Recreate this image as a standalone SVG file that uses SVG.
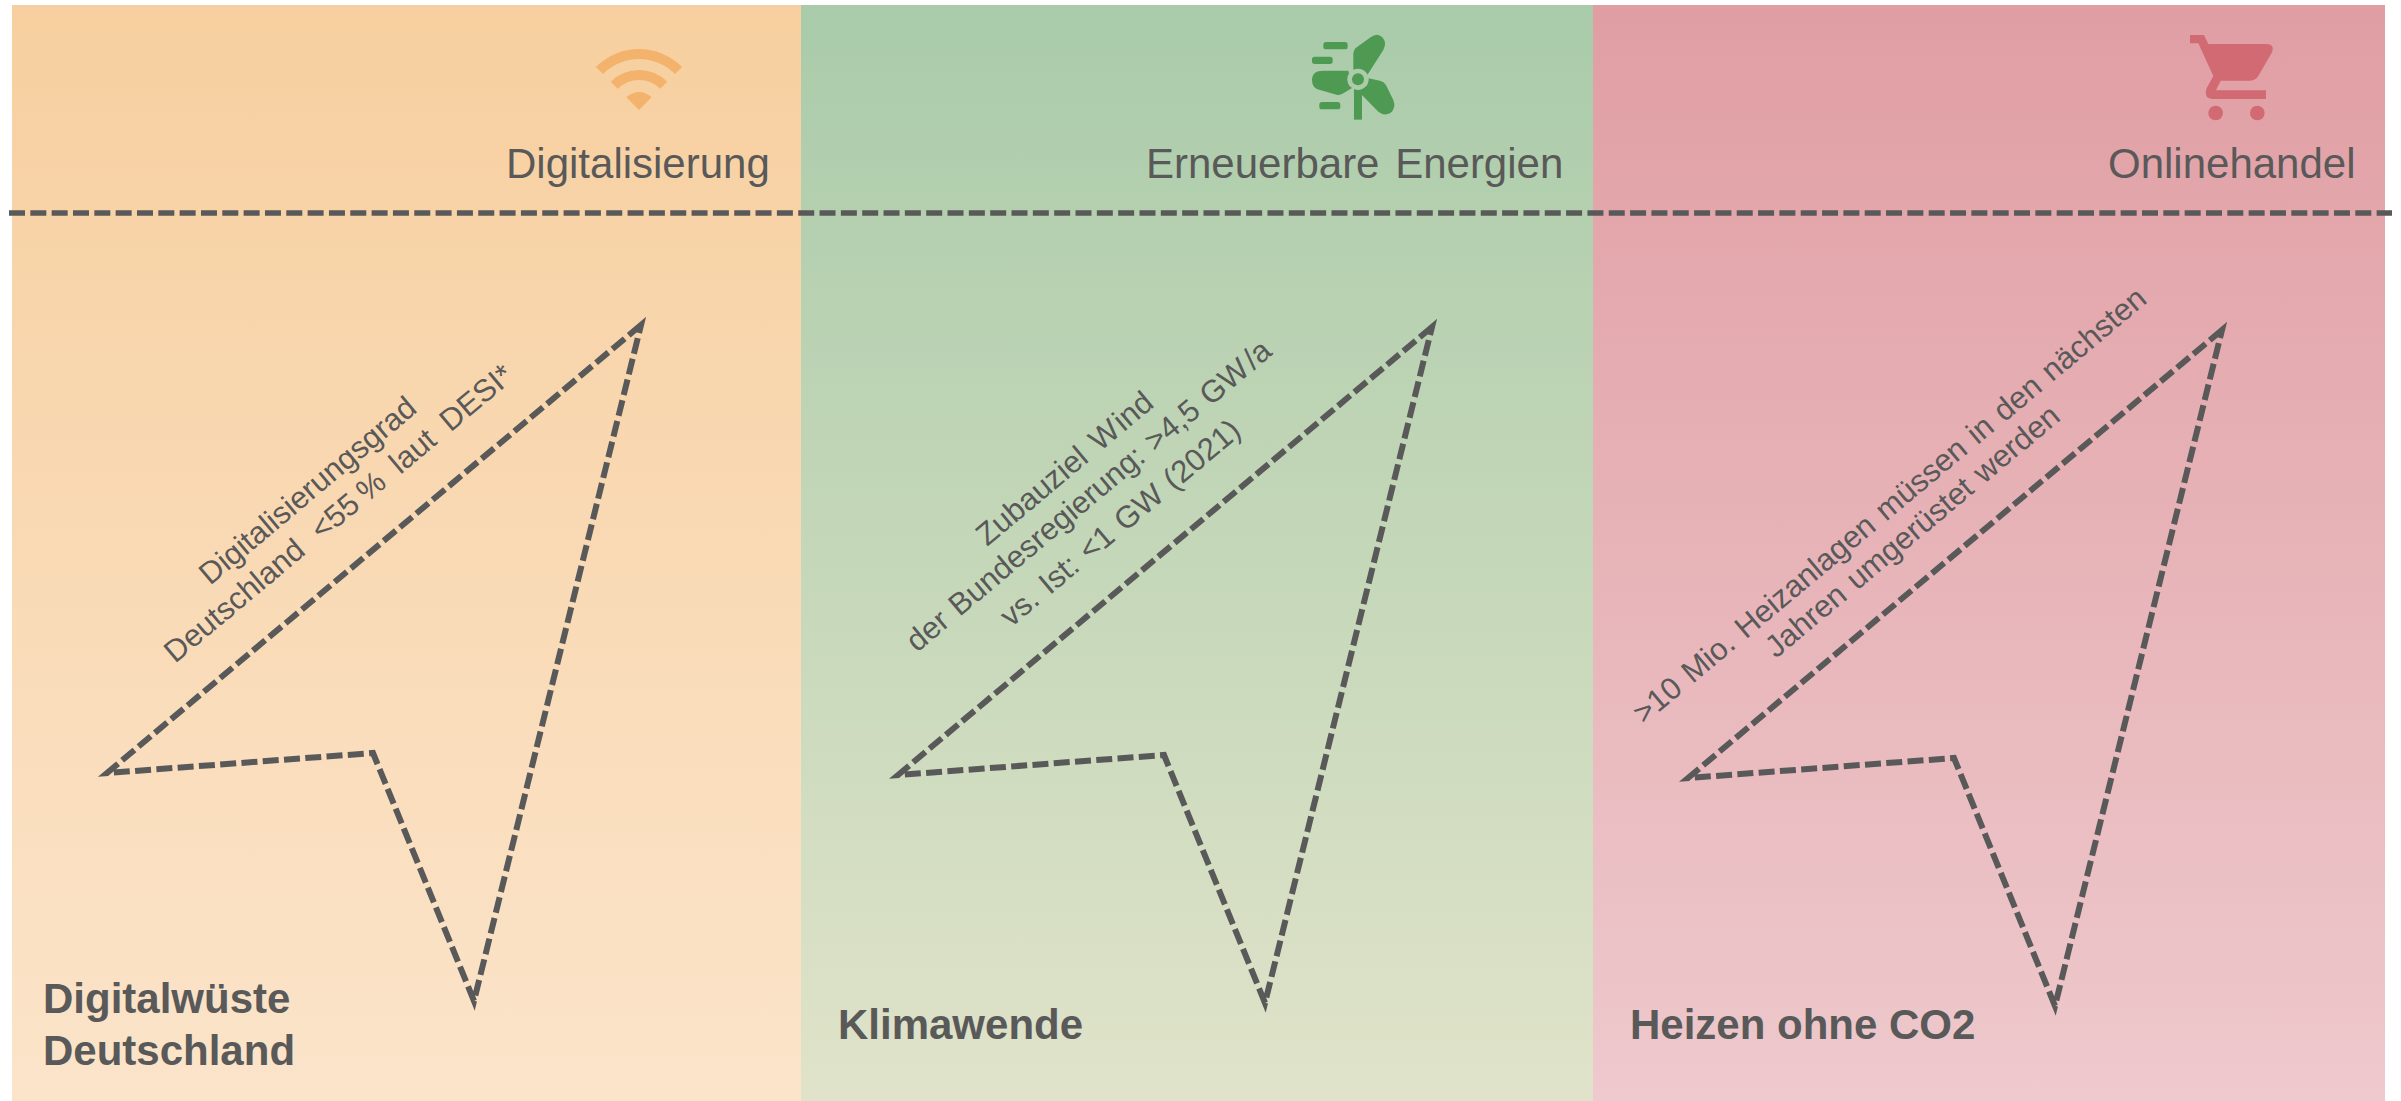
<svg xmlns="http://www.w3.org/2000/svg" width="2401" height="1101" viewBox="0 0 2401 1101">
<style>
text{font-family:"Liberation Sans",Arial,sans-serif;fill:#595959}
.h{font-size:42px}
.b{font-size:42px;font-weight:bold}
.r{font-size:31px;word-spacing:2.2px}
.dash{fill:none;stroke:#595959;stroke-width:6;stroke-dasharray:16 5.33;stroke-linejoin:miter;stroke-miterlimit:8}
</style>
<defs>
<linearGradient id="g1" x1="0" y1="0" x2="0" y2="1"><stop offset="0" stop-color="#F7CF9F"/><stop offset="1" stop-color="#FBE4CA"/></linearGradient>
<linearGradient id="g2" x1="0" y1="0" x2="0" y2="1"><stop offset="0" stop-color="#A9CBA9"/><stop offset="1" stop-color="#E0E3C9"/></linearGradient>
<linearGradient id="g3" x1="0" y1="0" x2="0" y2="1"><stop offset="0" stop-color="#E09EA3"/><stop offset="1" stop-color="#EEC9CD"/></linearGradient>
<path id="arrow" class="dash" d="M641 325L107 773L373 753L474 1001Z"/>
</defs>
<rect width="2401" height="1101" fill="#FFFFFF"/>
<g id="panel-digital">
<rect x="12" y="5" width="789" height="1096" fill="url(#g1)"/>
<g id="icon-wifi" fill="#F4B36C">
<path d="M595.9 66.9A61 61 0 0 1 682.1 66.9L675 74A51 51 0 0 0 603 74Z"/>
<path d="M610.7 81.7A40 40 0 0 1 667.3 81.7L660.2 88.8A30 30 0 0 0 617.8 88.8Z"/>
<path d="M626.3 97.3A18 18 0 0 1 651.7 97.3L639 110Z"/>
</g>
<text class="h" x="506" y="178">Digitalisierung</text>
<text class="b" x="43" y="1013">Digitalwüste</text>
<text class="b" x="43" y="1065">Deutschland</text>
<text class="r" transform="translate(210,586) rotate(-40)">Digitalisierungsgrad</text>
<text class="r" transform="translate(175,664) rotate(-40)">Deutschland <tspan dx="8">&lt;55</tspan><tspan dx="-4"> %</tspan><tspan dx="5"> laut</tspan><tspan dx="5"> DESI*</tspan></text>
</g>
<g id="panel-energie">
<rect x="801" y="5" width="792" height="1096" fill="url(#g2)"/>
<g id="icon-wind" fill="#4F9A53" transform="translate(1130,0) scale(.3333)">
<rect x="580" y="126" width="73" height="22" rx="8"/>
<rect x="546" y="170" width="62" height="22" rx="8"/>
<rect x="568" y="306" width="63" height="22" rx="8"/>
<rect x="672" y="260" width="24" height="99"/>
<path d="M670 215V160Q670 150 678 143L722 112Q742 97 757 112Q772 128 760 150L712 225Z"/>
<path d="M655 212H580Q546 212 546 240Q546 265 570 270L622 285Q632 286 640 280L670 262Z"/>
<path d="M715 235L750 242Q762 245 768 255L790 300Q800 325 780 340Q758 350 740 330L696 285V262Z"/>
<circle cx="684" cy="238" r="32" fill="#ABCBA9"/>
<circle cx="684" cy="238" r="18"/>
</g>
<text class="h" x="1146" y="178" style="word-spacing:4px">Erneuerbare Energien</text>
<text class="b" x="838" y="1039">Klimawende</text>
<text class="r" transform="translate(987,547) rotate(-40)">Zubauziel <tspan dx="2">W</tspan><tspan dx="2">ind</tspan></text>
<text class="r" transform="translate(917,653) rotate(-40)">der Bundesregierung: &gt;4,5 GW<tspan dx="3">/a</tspan></text>
<text class="r" transform="translate(1011,628) rotate(-40)">vs. Ist: &lt;1 GW (2021)</text>
</g>
<g id="panel-online">
<rect x="1593" y="5" width="792" height="1096" fill="url(#g3)"/>
<g id="icon-cart" fill="#D16A72" transform="translate(2050,0) scale(.3333)">
<path d="M420 105H462L475 132H650Q674 132 667 155L625 228Q616 242 600 242H512L498 271H648V297H490Q460 297 470 265L490 228L445 130H420Z"/>
<circle cx="497" cy="339" r="22"/>
<circle cx="622" cy="339" r="22"/>
</g>
<text class="h" x="2108" y="178">Onlinehandel</text>
<text class="b" x="1630" y="1039">Heizen ohne CO2</text>
<text class="r" transform="translate(1644,725) rotate(-40)">&gt;10 Mio. Heizanlagen müssen in den nächsten</text>
<text class="r" transform="translate(1776,659) rotate(-40)">Jahren umgerüstet werden</text>
</g>
<g id="connectors">
<path d="M9 213H2392" fill="none" stroke="#595959" stroke-width="5.5" stroke-dasharray="16 5.33"/>
<use href="#arrow"/>
<use href="#arrow" x="791" y="2"/>
<use href="#arrow" x="1581" y="5"/>
</g>
</svg>
